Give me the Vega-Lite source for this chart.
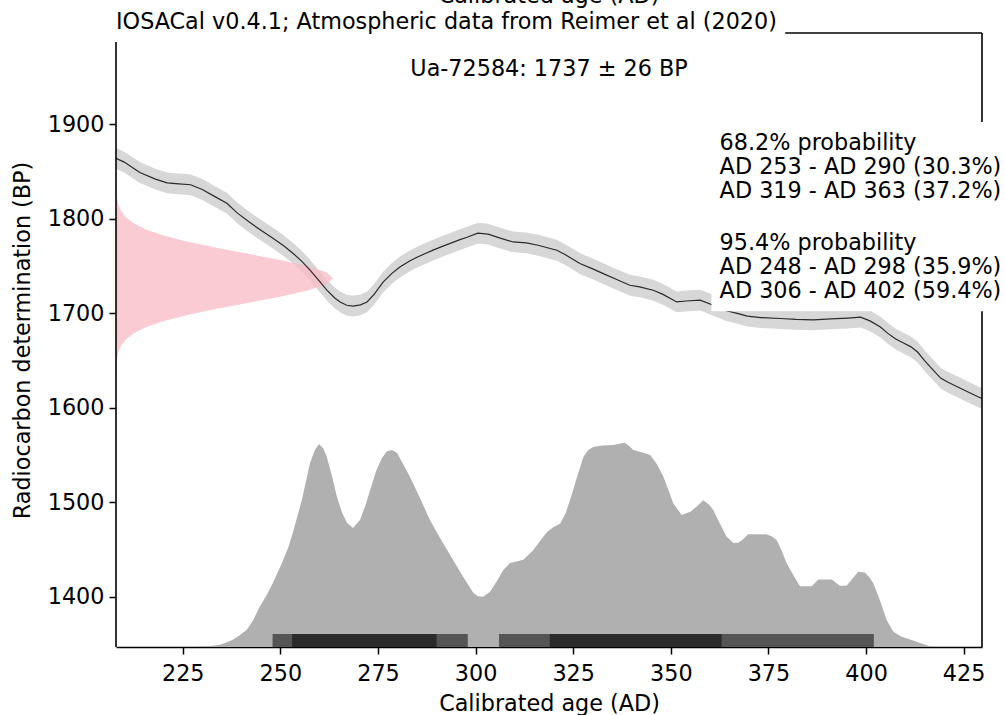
{
  "$schema": "https://vega.github.io/schema/vega-lite/v6.json",
  "width": 866,
  "height": 614,
  "autosize": {"type": "none"},
  "padding": {"left": 116, "top": 33, "right": 23, "bottom": 68},
  "background": "white",
  "config": {
    "view": {"stroke": null},
    "font": "DejaVu Sans",
    "axis": {
      "labelFontSize": 22.3,
      "titleFontSize": 22.3,
      "titleFontWeight": "normal",
      "labelColor": "black",
      "titleColor": "black",
      "tickColor": "black",
      "tickWidth": 1.5,
      "tickSize": 7,
      "grid": false,
      "domainColor": "black",
      "domainWidth": 1.6,
      "labelFont": "DejaVu Sans",
      "titleFont": "DejaVu Sans"
    },
    "text": {"font": "DejaVu Sans", "fontSize": 22.3, "color": "black"}
  },
  "datasets": {
    "curve": [
      {"age": 207.9, "bp": 1864, "lo": 1853, "hi": 1875},
      {"age": 210, "bp": 1860, "lo": 1849, "hi": 1871},
      {"age": 214, "bp": 1849, "lo": 1838, "hi": 1860},
      {"age": 218, "bp": 1842, "lo": 1831, "hi": 1853},
      {"age": 221, "bp": 1838, "lo": 1827, "hi": 1849},
      {"age": 224, "bp": 1837, "lo": 1826, "hi": 1848},
      {"age": 227, "bp": 1836, "lo": 1825, "hi": 1847},
      {"age": 230, "bp": 1831, "lo": 1820, "hi": 1842},
      {"age": 233, "bp": 1824, "lo": 1813, "hi": 1835},
      {"age": 236.3, "bp": 1816.5, "lo": 1805.5, "hi": 1827.5},
      {"age": 239, "bp": 1806, "lo": 1795, "hi": 1817},
      {"age": 242.2, "bp": 1796, "lo": 1785, "hi": 1807},
      {"age": 245, "bp": 1788, "lo": 1777, "hi": 1799},
      {"age": 248.1, "bp": 1779.5, "lo": 1768.5, "hi": 1790.5},
      {"age": 251, "bp": 1771, "lo": 1760, "hi": 1782},
      {"age": 253.2, "bp": 1763.6, "lo": 1752.6, "hi": 1774.6},
      {"age": 255.5, "bp": 1755, "lo": 1744, "hi": 1766},
      {"age": 257.6, "bp": 1745.7, "lo": 1734.7, "hi": 1756.7},
      {"age": 260, "bp": 1734, "lo": 1723, "hi": 1745},
      {"age": 261.9, "bp": 1724.5, "lo": 1713.5, "hi": 1735.5},
      {"age": 264, "bp": 1716, "lo": 1705, "hi": 1727},
      {"age": 265.3, "bp": 1712, "lo": 1701, "hi": 1723},
      {"age": 267, "bp": 1708.5, "lo": 1697.5, "hi": 1719.5},
      {"age": 268.6, "bp": 1707.6, "lo": 1696.6, "hi": 1718.6},
      {"age": 270.5, "bp": 1709, "lo": 1698, "hi": 1720},
      {"age": 272.2, "bp": 1712, "lo": 1701, "hi": 1723},
      {"age": 274, "bp": 1720, "lo": 1709, "hi": 1731},
      {"age": 276.3, "bp": 1733, "lo": 1722, "hi": 1744},
      {"age": 278.5, "bp": 1742, "lo": 1731, "hi": 1753},
      {"age": 280.6, "bp": 1749, "lo": 1738, "hi": 1760},
      {"age": 283, "bp": 1755, "lo": 1744, "hi": 1766},
      {"age": 285, "bp": 1759.4, "lo": 1748.4, "hi": 1770.4},
      {"age": 287, "bp": 1763, "lo": 1752, "hi": 1774},
      {"age": 289.1, "bp": 1766.8, "lo": 1755.8, "hi": 1777.8},
      {"age": 291, "bp": 1770, "lo": 1759, "hi": 1781},
      {"age": 293.5, "bp": 1774, "lo": 1763, "hi": 1785},
      {"age": 296, "bp": 1778, "lo": 1767, "hi": 1789},
      {"age": 297.8, "bp": 1780.5, "lo": 1769.5, "hi": 1791.5},
      {"age": 300.6, "bp": 1784.8, "lo": 1773.8, "hi": 1795.8},
      {"age": 303.2, "bp": 1783.7, "lo": 1772.7, "hi": 1794.7},
      {"age": 306.3, "bp": 1779.5, "lo": 1768.5, "hi": 1790.5},
      {"age": 309.6, "bp": 1775.5, "lo": 1764.5, "hi": 1786.5},
      {"age": 313, "bp": 1774.5, "lo": 1763.5, "hi": 1785.5},
      {"age": 316, "bp": 1772, "lo": 1761, "hi": 1783},
      {"age": 320.8, "bp": 1766.7, "lo": 1755.7, "hi": 1777.7},
      {"age": 323, "bp": 1762, "lo": 1751, "hi": 1773},
      {"age": 326.7, "bp": 1752.7, "lo": 1741.7, "hi": 1763.7},
      {"age": 330, "bp": 1747, "lo": 1736, "hi": 1758},
      {"age": 332.7, "bp": 1742, "lo": 1731, "hi": 1753},
      {"age": 336, "bp": 1736, "lo": 1725, "hi": 1747},
      {"age": 339.5, "bp": 1729.7, "lo": 1718.7, "hi": 1740.7},
      {"age": 342, "bp": 1728, "lo": 1717, "hi": 1739},
      {"age": 345.5, "bp": 1724.4, "lo": 1713.4, "hi": 1735.4},
      {"age": 348, "bp": 1720, "lo": 1709, "hi": 1731},
      {"age": 351.5, "bp": 1712, "lo": 1701, "hi": 1723},
      {"age": 354, "bp": 1713, "lo": 1702, "hi": 1724},
      {"age": 357.5, "bp": 1714, "lo": 1703, "hi": 1725},
      {"age": 360.9, "bp": 1708.5, "lo": 1697.5, "hi": 1719.5},
      {"age": 364, "bp": 1703, "lo": 1692, "hi": 1714},
      {"age": 367, "bp": 1700, "lo": 1689, "hi": 1711},
      {"age": 369.6, "bp": 1697, "lo": 1686, "hi": 1708},
      {"age": 373, "bp": 1695.5, "lo": 1684.5, "hi": 1706.5},
      {"age": 378.1, "bp": 1694.5, "lo": 1683.5, "hi": 1705.5},
      {"age": 382, "bp": 1693.5, "lo": 1682.5, "hi": 1704.5},
      {"age": 386.5, "bp": 1693, "lo": 1682, "hi": 1704},
      {"age": 391, "bp": 1694, "lo": 1683, "hi": 1705},
      {"age": 395.3, "bp": 1695, "lo": 1684, "hi": 1706},
      {"age": 398.6, "bp": 1696, "lo": 1685, "hi": 1707},
      {"age": 401, "bp": 1692, "lo": 1681, "hi": 1703},
      {"age": 403.7, "bp": 1685.4, "lo": 1674.4, "hi": 1696.4},
      {"age": 405.5, "bp": 1679, "lo": 1668, "hi": 1690},
      {"age": 407.5, "bp": 1673, "lo": 1662, "hi": 1684},
      {"age": 409.6, "bp": 1668.5, "lo": 1657.5, "hi": 1679.5},
      {"age": 411.5, "bp": 1664.5, "lo": 1653.5, "hi": 1675.5},
      {"age": 413.2, "bp": 1659, "lo": 1648, "hi": 1670},
      {"age": 415, "bp": 1650, "lo": 1639, "hi": 1661},
      {"age": 416.5, "bp": 1643, "lo": 1632, "hi": 1654},
      {"age": 419.1, "bp": 1631.5, "lo": 1620.5, "hi": 1642.5},
      {"age": 421, "bp": 1627, "lo": 1616, "hi": 1638},
      {"age": 423.5, "bp": 1622, "lo": 1611, "hi": 1633},
      {"age": 426, "bp": 1617, "lo": 1606, "hi": 1628},
      {"age": 428.8, "bp": 1611.4, "lo": 1600.4, "hi": 1622.4},
      {"age": 429.7, "bp": 1610, "lo": 1599, "hi": 1621}
    ],
    "pink": [
      {"bp": 1633, "age": 207.92},
      {"bp": 1646, "age": 208.02},
      {"bp": 1652.5, "age": 208.18},
      {"bp": 1659, "age": 208.52},
      {"bp": 1665.5, "age": 209.17},
      {"bp": 1672, "age": 210.34},
      {"bp": 1678.5, "age": 212.33},
      {"bp": 1685, "age": 215.42},
      {"bp": 1691.5, "age": 219.93},
      {"bp": 1698, "age": 225.95},
      {"bp": 1704.5, "age": 233.36},
      {"bp": 1711, "age": 241.62},
      {"bp": 1717.5, "age": 249.87},
      {"bp": 1724, "age": 256.97},
      {"bp": 1730.5, "age": 261.79},
      {"bp": 1737, "age": 263.5},
      {"bp": 1743.5, "age": 261.79},
      {"bp": 1750, "age": 256.97},
      {"bp": 1756.5, "age": 249.87},
      {"bp": 1763, "age": 241.62},
      {"bp": 1769.5, "age": 233.36},
      {"bp": 1776, "age": 225.95},
      {"bp": 1782.5, "age": 219.93},
      {"bp": 1789, "age": 215.42},
      {"bp": 1795.5, "age": 212.33},
      {"bp": 1802, "age": 210.34},
      {"bp": 1808.5, "age": 209.17},
      {"bp": 1815, "age": 208.52},
      {"bp": 1821.5, "age": 208.18},
      {"bp": 1828, "age": 208.02},
      {"bp": 1841, "age": 207.92}
    ],
    "dist": [
      {"age": 228, "p": 1347},
      {"age": 229.4, "p": 1347.5},
      {"age": 232, "p": 1348},
      {"age": 234.5, "p": 1349.3},
      {"age": 236, "p": 1351.5},
      {"age": 237.8, "p": 1354.5},
      {"age": 239.5, "p": 1359},
      {"age": 241.4, "p": 1365.1},
      {"age": 243, "p": 1375},
      {"age": 244.7, "p": 1389.4},
      {"age": 246.5, "p": 1402},
      {"age": 248.1, "p": 1414.8},
      {"age": 250.4, "p": 1435.9},
      {"age": 252, "p": 1452},
      {"age": 253.2, "p": 1467.7},
      {"age": 255.5, "p": 1502.5},
      {"age": 257.6, "p": 1541.6},
      {"age": 258.8, "p": 1555},
      {"age": 259.9, "p": 1561.7},
      {"age": 261, "p": 1557},
      {"age": 261.9, "p": 1548},
      {"age": 263.2, "p": 1528},
      {"age": 264.5, "p": 1505.7},
      {"age": 265.8, "p": 1489},
      {"age": 267.1, "p": 1478.2},
      {"age": 268.6, "p": 1472.9},
      {"age": 270.4, "p": 1481.4},
      {"age": 271.8, "p": 1497},
      {"age": 273, "p": 1513.1},
      {"age": 274.5, "p": 1533},
      {"age": 276, "p": 1547},
      {"age": 277.3, "p": 1554},
      {"age": 278.6, "p": 1555.4},
      {"age": 279.9, "p": 1552.2},
      {"age": 281.5, "p": 1540},
      {"age": 283.2, "p": 1526.8},
      {"age": 285.7, "p": 1505},
      {"age": 288.3, "p": 1481.4},
      {"age": 291.2, "p": 1460},
      {"age": 294.2, "p": 1439.1},
      {"age": 297, "p": 1420},
      {"age": 299.4, "p": 1404.2},
      {"age": 300.6, "p": 1400.5},
      {"age": 301.9, "p": 1400},
      {"age": 303.7, "p": 1405.3},
      {"age": 305.5, "p": 1417},
      {"age": 307.1, "p": 1428.5},
      {"age": 308.8, "p": 1435.9},
      {"age": 310.5, "p": 1437.5},
      {"age": 312.2, "p": 1439.1},
      {"age": 314.7, "p": 1449},
      {"age": 316.5, "p": 1459},
      {"age": 318.3, "p": 1468.7},
      {"age": 320, "p": 1474},
      {"age": 321.7, "p": 1477.6},
      {"age": 323, "p": 1488},
      {"age": 324.2, "p": 1502.5},
      {"age": 326, "p": 1527},
      {"age": 327.6, "p": 1548},
      {"age": 328.8, "p": 1555},
      {"age": 330.1, "p": 1558.6},
      {"age": 332.5, "p": 1560},
      {"age": 335.3, "p": 1560.7},
      {"age": 338.1, "p": 1563},
      {"age": 339.2, "p": 1560},
      {"age": 340.4, "p": 1555.4},
      {"age": 342.5, "p": 1553},
      {"age": 344.7, "p": 1550},
      {"age": 346.5, "p": 1540},
      {"age": 348.1, "p": 1527},
      {"age": 349.5, "p": 1512},
      {"age": 350.6, "p": 1499},
      {"age": 352.8, "p": 1486.5},
      {"age": 355, "p": 1490},
      {"age": 356.8, "p": 1496},
      {"age": 358.3, "p": 1502.3},
      {"age": 359.7, "p": 1498},
      {"age": 360.9, "p": 1491.7},
      {"age": 362.5, "p": 1478},
      {"age": 364.3, "p": 1463.5},
      {"age": 366, "p": 1457.2},
      {"age": 367.3, "p": 1457.2},
      {"age": 368.5, "p": 1461},
      {"age": 369.8, "p": 1466.3},
      {"age": 374.5, "p": 1466.3},
      {"age": 375.8, "p": 1464},
      {"age": 377.1, "p": 1460},
      {"age": 378.5, "p": 1448},
      {"age": 379.7, "p": 1435.3},
      {"age": 381.5, "p": 1422},
      {"age": 383.1, "p": 1411.3},
      {"age": 386.1, "p": 1411.3},
      {"age": 387.8, "p": 1418.4},
      {"age": 391.2, "p": 1418.4},
      {"age": 393.3, "p": 1411.6},
      {"age": 395, "p": 1411.6},
      {"age": 396.5, "p": 1419},
      {"age": 398, "p": 1426.4},
      {"age": 399.7, "p": 1425.8},
      {"age": 401, "p": 1420},
      {"age": 401.9, "p": 1414.1},
      {"age": 403.5, "p": 1397},
      {"age": 405.3, "p": 1375.3},
      {"age": 407, "p": 1363},
      {"age": 409, "p": 1358},
      {"age": 411.3, "p": 1354.9},
      {"age": 414, "p": 1351},
      {"age": 416.4, "p": 1347.8},
      {"age": 418, "p": 1347}
    ],
    "hpd": [
      {"level": "95.4%", "start": 248, "end": 298},
      {"level": "95.4%", "start": 306, "end": 402},
      {"level": "68.2%", "start": 253, "end": 290},
      {"level": "68.2%", "start": 319, "end": 363}
    ]
  },
  "layer": [
    {
      "data": {"name": "curve"},
      "mark": {"type": "area", "color": "#d7d7d7", "clip": true},
      "encoding": {
        "x": {
          "field": "age", "type": "quantitative",
          "scale": {"domain": [207.9, 429.7], "nice": false, "zero": false},
          "axis": {
            "title": "Calibrated age (AD)",
            "values": [225, 250, 275, 300, 325, 350, 375, 400, 425],
            "format": "d",
            "domain": true,
            "labelPadding": 8,
            "titlePadding": 8
          }
        },
        "y": {
          "field": "lo", "type": "quantitative",
          "scale": {"domain": [1346.9, 1996.6], "nice": false, "zero": false},
          "axis": {
            "title": "Radiocarbon determination (BP)",
            "values": [1400, 1500, 1600, 1700, 1800, 1900],
            "format": "d",
            "domain": false,
            "labelPadding": 5,
            "titlePadding": 13
          }
        },
        "y2": {"field": "hi"}
      }
    },
    {
      "data": {"name": "pink"},
      "mark": {"type": "area", "orient": "horizontal", "color": "#f8bcc6", "opacity": 0.78, "clip": true},
      "encoding": {
        "y": {"field": "bp", "type": "quantitative"},
        "x": {"field": "age", "type": "quantitative"},
        "x2": {"datum": 207.9}
      }
    },
    {
      "data": {"name": "curve"},
      "mark": {"type": "line", "color": "#2b2b2b", "strokeWidth": 1.2, "clip": true},
      "encoding": {
        "x": {"field": "age", "type": "quantitative"},
        "y": {"field": "bp", "type": "quantitative"}
      }
    },
    {
      "data": {"name": "dist"},
      "mark": {"type": "area", "color": "#b0b0b0"},
      "encoding": {
        "x": {"field": "age", "type": "quantitative"},
        "y": {"field": "p", "type": "quantitative"},
        "y2": {"datum": 1346.9}
      }
    },
    {
      "data": {"name": "hpd"},
      "mark": {"type": "rect"},
      "encoding": {
        "x": {"field": "start", "type": "quantitative"},
        "x2": {"field": "end"},
        "y": {"datum": 1346.9},
        "y2": {"datum": 1360.6},
        "color": {
          "field": "level", "type": "nominal",
          "scale": {"domain": ["95.4%", "68.2%"], "range": ["#555555", "#2b2b2b"]},
          "legend": null
        }
      }
    },
    {
      "data": {"values": [{"box": "summary"}]},
      "mark": {"type": "rect", "color": "white", "clip": false},
      "encoding": {
        "x": {"datum": 360.4},
        "x2": {"datum": 437},
        "y": {"datum": 1702.2},
        "y2": {"datum": 1902.4}
      }
    },
    {
      "data": {"values": [{"spine": "left"}]},
      "mark": {"type": "rule", "color": "black", "strokeWidth": 1.6},
      "encoding": {"x": {"datum": 207.9}, "y": {"datum": 1346.9}, "y2": {"datum": 1987.1}}
    },
    {
      "data": {"values": [{"spine": "top"}]},
      "mark": {"type": "rule", "color": "black", "strokeWidth": 1.6},
      "encoding": {"x": {"datum": 379.3}, "x2": {"datum": 429.7}, "y": {"datum": 1996.6}}
    },
    {
      "data": {"values": [{"spine": "right-upper"}]},
      "mark": {"type": "rule", "color": "black", "strokeWidth": 1.6},
      "encoding": {"x": {"datum": 429.7}, "y": {"datum": 1902.4}, "y2": {"datum": 1996.6}}
    },
    {
      "data": {"values": [{"spine": "right-lower"}]},
      "mark": {"type": "rule", "color": "black", "strokeWidth": 1.6},
      "encoding": {"x": {"datum": 429.7}, "y": {"datum": 1346.9}, "y2": {"datum": 1702.2}}
    },
    {
      "data": {"values": [{"label": "Calibrated age (AD)"}]},
      "mark": {"type": "text", "align": "center", "baseline": "alphabetic", "clip": false},
      "encoding": {"text": {"field": "label"}, "x": {"datum": 318.8}, "y": {"datum": 2028}}
    },
    {
      "data": {"values": [{"label": "IOSACal v0.4.1; Atmospheric data from Reimer et al (2020)"}]},
      "mark": {"type": "text", "align": "left", "baseline": "alphabetic", "clip": false},
      "encoding": {"text": {"field": "label"}, "x": {"datum": 207.9}, "y": {"datum": 2001.2}}
    },
    {
      "data": {"values": [{"label": "Ua-72584: 1737 ± 26 BP"}]},
      "mark": {"type": "text", "align": "center", "baseline": "alphabetic"},
      "encoding": {"text": {"field": "label"}, "x": {"datum": 318.8}, "y": {"datum": 1951.5}}
    },
    {
      "data": {"values": [{"label": "68.2% probability\nAD 253 - AD 290 (30.3%)\nAD 319 - AD 363 (37.2%)"}]},
      "mark": {"type": "text", "align": "left", "baseline": "top", "lineBreak": "\n", "lineHeight": 24, "clip": false},
      "encoding": {"text": {"field": "label"}, "x": {"datum": 362.5}, "y": {"datum": 1891.5}}
    },
    {
      "data": {"values": [{"label": "95.4% probability\nAD 248 - AD 298 (35.9%)\nAD 306 - AD 402 (59.4%)"}]},
      "mark": {"type": "text", "align": "left", "baseline": "top", "lineBreak": "\n", "lineHeight": 24, "clip": false},
      "encoding": {"text": {"field": "label"}, "x": {"datum": 362.5}, "y": {"datum": 1785.6}}
    }
  ]
}
